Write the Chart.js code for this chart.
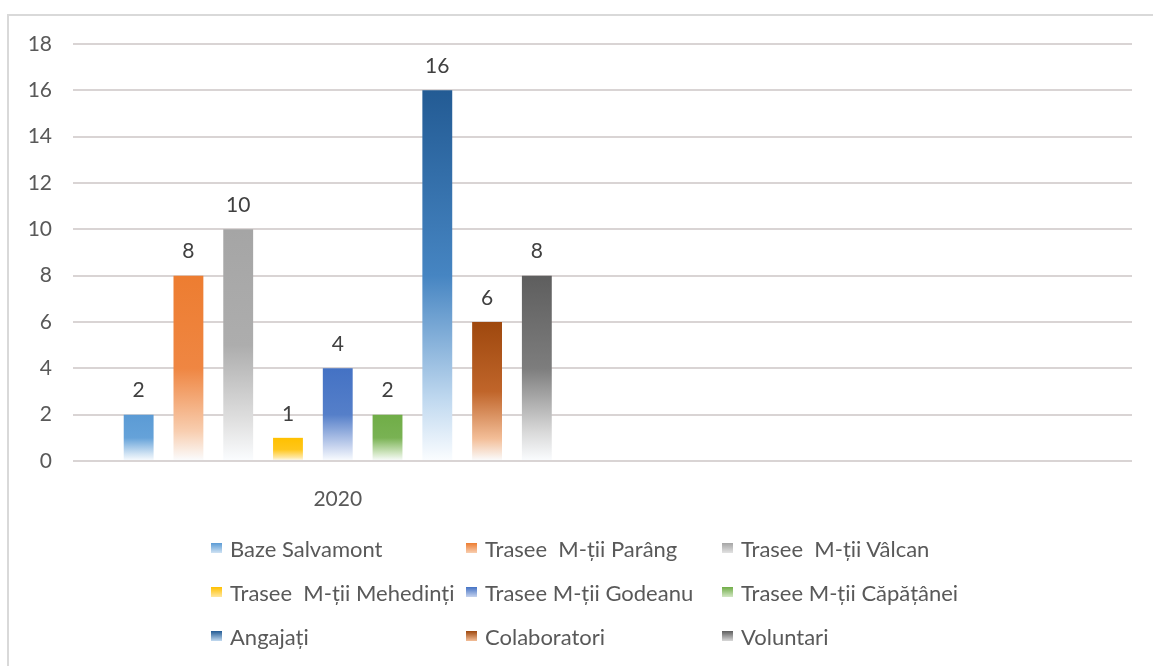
<!DOCTYPE html>
<html>
<head>
<meta charset="utf-8">
<script src="https://cdn.jsdelivr.net/npm/chart.js@4/dist/chart.umd.min.js"></script>
<style>
  html, body { margin: 0; padding: 0; background: #fff; }
  #wrap { position: relative; width: 1153px; height: 666px; overflow: hidden; }
  #frame { position: absolute; left: 7px; top: 14px; width: 1200px; height: 700px;
           border-top: 2px solid #d9d9d9; border-left: 2px solid #d9d9d9; }
  #chart { position: absolute; left: 0; top: 0; }
  #legend { position: absolute; left: 211px; top: 526px; display: grid;
            grid-template-columns: 255px 256px 256px; grid-auto-rows: 44px;
            font-family: Lato, "Noto Sans", sans-serif; font-size: 22px; color: #595959; }
  #legend .item { display: flex; align-items: center; white-space: pre; }
  #legend .box { width: 11px; height: 10px; margin-right: 8px; flex: none; }
</style>
</head>
<body>
<div id="wrap">
  <div id="frame"></div>
  <canvas id="chart" width="1153" height="666"></canvas>
  <div id="legend"></div>
</div>
<script>
// categories (second one is empty, as in the original sheet)
const categories = ['2020', ''];

const seriesNames = [
    'Baze Salvamont',
    'Trasee  M-ții Parâng',
    'Trasee  M-ții Vâlcan',
    'Trasee  M-ții Mehedinți',
    'Trasee M-ții Godeanu',
    'Trasee M-ții Căpățânei',
    'Angajați',
    'Colaboratori',
    'Voluntari'
];

const values2020 = [2, 8, 10, 1, 4, 2, 16, 6, 8];

const yTicks = [0, 2, 4, 6, 8, 10, 12, 14, 16, 18];

// gradient colours: top, middle, near-bottom (bottom is white)
const topColors  = ['#5b9bd5', '#ed7d31', '#a5a5a5', '#ffc000', '#4472c4', '#70ad47', '#235b94', '#9e480e', '#5e5e5e'];
const midColors  = ['#65a2d9', '#ef8642', '#adadad', '#ffc61a', '#557fc9', '#79b253', '#4685c2', '#c0652a', '#7d7d7d'];
const fadeColors = ['#cfe2f3', '#f8ceb0', '#e2e2e2', '#ffe7a0', '#c6d3ee', '#d3e7c5', '#c2daf0', '#f3be98', '#d8d8d8'];

function barFill(ctx, i) {
    const chart = ctx.chart;
    const area = chart.chartArea;
    if (!area || ctx.type !== 'data' || ctx.raw == null) return topColors[i];
    const y = chart.scales.y;
    const yTop = y.getPixelForValue(ctx.raw);
    const yBase = y.getPixelForValue(0);
    const g = chart.ctx.createLinearGradient(0, yTop, 0, yBase);
    g.addColorStop(0, topColors[i]);
    g.addColorStop(0.5, midColors[i]);
    g.addColorStop(0.84, fadeColors[i]);
    g.addColorStop(1, '#fbfdff');
    return g;
}

const datasets = seriesNames.map((name, i) => ({
    label: name,
    data: [values2020[i], null],
    backgroundColor: ctx => barFill(ctx, i),
    borderWidth: 0,
    categoryPercentage: 0.846,
    barPercentage: 0.6
}));

// value labels above each bar
const valueLabels = {
    id: 'valueLabels',
    afterDatasetsDraw(chart) {
        const c = chart.ctx;
        c.save();
        c.font = '21px Lato, "Noto Sans", sans-serif';
        c.fillStyle = '#404040';
        c.textAlign = 'center';
        c.textBaseline = 'middle';
        chart.data.datasets.forEach((ds, i) => {
            const meta = chart.getDatasetMeta(i);
            meta.data.forEach((bar, j) => {
                const v = ds.data[j];
                if (v == null) return;
                c.fillText(String(v), bar.x, bar.y - 24);
            });
        });
        c.restore();
    }
};

// legend in a fixed 3-column grid
const htmlLegend = {
    id: 'htmlLegend',
    afterUpdate(chart) {
        const box = document.getElementById('legend');
        box.innerHTML = '';
        chart.data.datasets.forEach((ds, i) => {
            const item = document.createElement('div');
            item.className = 'item';
            const sw = document.createElement('span');
            sw.className = 'box';
            sw.style.background = 'linear-gradient(' + topColors[i] + ', ' + fadeColors[i] + ')';
            const txt = document.createElement('span');
            txt.textContent = ds.label;
            item.appendChild(sw);
            item.appendChild(txt);
            box.appendChild(item);
        });
    }
};

new Chart(document.getElementById('chart'), {
    type: 'bar',
    data: { labels: categories, datasets: datasets },
    options: {
        responsive: false,
        animation: false,
        layout: { padding: { left: 7, top: 44, right: 21, bottom: 155 } },
        plugins: {
            legend: { display: false },
            tooltip: { enabled: false }
        },
        scales: {
            x: {
                grid: { display: false },
                border: { display: false },
                ticks: {
                    font: { family: 'Lato', size: 21 },
                    color: '#595959',
                    padding: 18
                },
                afterFit: s => { s.height = 50; }
            },
            y: {
                min: 0,
                max: 18,
                afterBuildTicks: s => { s.ticks = yTicks.map(v => ({ value: v })); },
                grid: { color: '#d9d4d4', lineWidth: 2, drawTicks: false },
                border: { display: false },
                ticks: {
                    font: { family: 'Lato', size: 21 },
                    color: '#595959',
                    padding: 21
                },
                afterFit: s => { s.width = 66; }
            }
        }
    },
    plugins: [valueLabels, htmlLegend]
});
</script>
</body>
</html>
